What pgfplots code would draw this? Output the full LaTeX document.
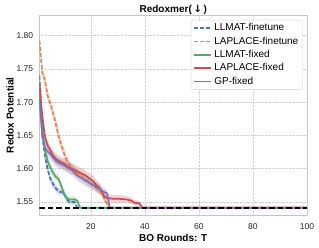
\documentclass[border=0pt]{standalone}
\usepackage{pgfplots}
\pgfplotsset{compat=1.18}
\usepgfplotslibrary{fillbetween}
\usepackage{pgfplotstable}
\usepackage{fontspec}
\setmainfont{Liberation Sans}
\newfontfamily\dejavu{DejaVu Sans}
\definecolor{cblue}{HTML}{4C72B0}
\definecolor{corange}{HTML}{DD8452}
\definecolor{cgreen}{HTML}{55A868}
\definecolor{cred}{HTML}{C44E52}
\definecolor{cpurple}{HTML}{8172B3}

\pgfplotstableread{
x y d
1 1.740 0.006
2 1.650 0.007
3 1.620 0.007
4 1.600 0.007
5 1.585 0.006
6 1.577 0.006
7 1.571 0.005
8 1.566 0.005
9 1.565 0.005
10 1.564 0.005
11 1.555 0.005
12 1.550 0.004
14 1.550 0.004
15 1.5415 0
100 1.5415 0
}\blueT

\pgfplotstableread{
x y d
1 1.792 0.008
2 1.745 0.008
3 1.733 0.008
4 1.710 0.008
5 1.698 0.008
6 1.684 0.008
7 1.668 0.008
8 1.650 0.008
9 1.636 0.008
10 1.624 0.008
11 1.614 0.007
12 1.607 0.007
13 1.601 0.007
14 1.597 0.007
15 1.593 0.007
16 1.590 0.007
17 1.587 0.007
18 1.584 0.007
19 1.581 0.007
20 1.578 0.007
21 1.575 0.007
22 1.572 0.007
23 1.569 0.007
24 1.564 0.006
25 1.555 0.005
26 1.547 0.004
27 1.5415 0.002
29 1.5415 0
100 1.5415 0
}\orangeT

\pgfplotstableread{
x y d
1 1.712 0.006
2 1.660 0.007
3 1.628 0.007
4 1.612 0.007
5 1.602 0.006
6 1.594 0.006
7 1.588 0.006
8 1.585 0.006
9 1.575 0.006
10 1.563 0.005
11 1.556 0.004
12 1.554 0.004
14 1.554 0.004
15 1.552 0.003
16 1.5415 0
100 1.5415 0
}\greenT

\pgfplotstableread{
x y d
1 1.728 0.007
2 1.680 0.008
3 1.648 0.008
4 1.635 0.008
5 1.628 0.008
6 1.620 0.008
7 1.615 0.008
8 1.612 0.008
9 1.610 0.008
10 1.608 0.008
11 1.605 0.008
12 1.602 0.008
13 1.600 0.008
14 1.598 0.008
15 1.596 0.008
16 1.594 0.008
17 1.592 0.008
18 1.590 0.008
19 1.587 0.008
20 1.584 0.008
21 1.581 0.008
22 1.575 0.008
23 1.572 0.008
24 1.566 0.007
25 1.558 0.006
26 1.556 0.006
28 1.555 0.006
30 1.555 0.006
33 1.554 0.005
35 1.552 0.005
36 1.549 0.004
38 1.548 0.004
39 1.5415 0
100 1.5415 0
}\redT

\pgfplotstableread{
x y d
1 1.705 0.007
2 1.650 0.008
3 1.632 0.008
4 1.626 0.008
5 1.622 0.008
6 1.617 0.008
7 1.612 0.008
8 1.609 0.008
9 1.607 0.008
10 1.605 0.008
11 1.603 0.008
12 1.600 0.008
13 1.598 0.008
14 1.594 0.008
15 1.590 0.008
16 1.587 0.008
17 1.585 0.008
18 1.582 0.008
19 1.580 0.008
20 1.577 0.007
21 1.575 0.007
22 1.572 0.007
23 1.570 0.007
24 1.567 0.006
25 1.565 0.006
26 1.563 0.005
27 1.5415 0
100 1.5415 0
}\purpleT

\begin{document}
\begin{tikzpicture}
\begin{axis}[
  width=267.5pt, height=200.6pt, scale only axis,
  xmin=1, xmax=100, ymin=1.5296, ymax=1.831,
  xtick={20,40,60,80,100},
  ytick={1.55,1.60,1.65,1.70,1.75,1.80},
  yticklabel style={/pgf/number format/fixed, /pgf/number format/fixed zerofill, /pgf/number format/precision=2},
  /pgf/number format/assume math mode=true,
  ticklabel style={font=\fontsize{8.5}{10}\selectfont, text=black!85},
  xticklabel style={anchor=center, yshift=-11.1pt},
  yticklabel style={anchor=east, inner sep=0pt, xshift=-6.2pt},
  major tick length=0pt,
  tick style={draw=none},
  grid=major,
  grid style={densely dotted, color=gray!35, line width=0.5pt},
  axis line style={gray!45, line width=0.6pt},
  every axis title shift=0pt,
  title={Redoxmer(\,{\dejavu\bfseries ↓}\,)},
  title style={font=\bfseries\fontsize{10}{12}\selectfont, at={(axis description cs:0.5,1.0249)}, anchor=center},
  xlabel={BO Rounds: T},
  xlabel style={font=\bfseries\fontsize{10}{12}\selectfont, at={(axis description cs:0.5,-0.1117)}, anchor=center},
  ylabel={Redox Potential},
  ylabel style={font=\bfseries\fontsize{10}{12}\selectfont, at={(axis description cs:-0.1103,0.5)}, anchor=center},
  legend style={at={(axis description cs:1,1)}, anchor=north east, xshift=-4pt, yshift=-5pt,
    draw=gray!35, rounded corners=2pt, fill=white,
    font=\fontsize{10}{11.5}\selectfont, row sep=0.6pt, inner xsep=2.5pt, inner ysep=1.5pt},
  legend cell align=left,
]
% bands
\addplot[draw=none, name path=bU, forget plot] table[x=x, y expr=\thisrow{y}+\thisrow{d}] {\blueT};
\addplot[draw=none, name path=bL, forget plot] table[x=x, y expr=\thisrow{y}-\thisrow{d}] {\blueT};
\addplot[cblue, fill opacity=0.25, draw=none, forget plot] fill between[of=bU and bL];
\addplot[draw=none, name path=oU, forget plot] table[x=x, y expr=\thisrow{y}+\thisrow{d}] {\orangeT};
\addplot[draw=none, name path=oL, forget plot] table[x=x, y expr=\thisrow{y}-\thisrow{d}] {\orangeT};
\addplot[corange, fill opacity=0.25, draw=none, forget plot] fill between[of=oU and oL];
\addplot[draw=none, name path=gU, forget plot] table[x=x, y expr=\thisrow{y}+\thisrow{d}] {\greenT};
\addplot[draw=none, name path=gL, forget plot] table[x=x, y expr=\thisrow{y}-\thisrow{d}] {\greenT};
\addplot[cgreen, fill opacity=0.25, draw=none, forget plot] fill between[of=gU and gL];
\addplot[draw=none, name path=rU, forget plot] table[x=x, y expr=\thisrow{y}+\thisrow{d}] {\redT};
\addplot[draw=none, name path=rL, forget plot] table[x=x, y expr=\thisrow{y}-\thisrow{d}] {\redT};
\addplot[cred, fill opacity=0.25, draw=none, forget plot] fill between[of=rU and rL];
\addplot[draw=none, name path=pU, forget plot] table[x=x, y expr=\thisrow{y}+\thisrow{d}] {\purpleT};
\addplot[draw=none, name path=pL, forget plot] table[x=x, y expr=\thisrow{y}-\thisrow{d}] {\purpleT};
\addplot[cpurple, fill opacity=0.25, draw=none, forget plot] fill between[of=pU and pL];
% lines
\addplot[cblue, line width=1.7pt, dash pattern=on 4pt off 2pt, no marks, forget plot] table[x=x,y=y] {\blueT};
\addplot[corange, line width=1.7pt, dash pattern=on 4pt off 2pt, no marks, forget plot] table[x=x,y=y] {\orangeT};
\addplot[cgreen, line width=1.7pt, no marks, forget plot] table[x=x,y=y] {\greenT};
\addplot[cred, line width=1.7pt, no marks, forget plot] table[x=x,y=y] {\redT};
\addplot[cpurple, line width=1.7pt, no marks, forget plot] table[x=x,y=y] {\purpleT};
\addplot[black, line width=1.8pt, dash pattern=on 5.5pt off 3pt, forget plot] coordinates {(1,1.5415) (100,1.5415)};
% legend
\addlegendimage{cblue, line width=1.7pt, dash pattern=on 4pt off 2pt}
\addlegendentry{LLMAT-finetune}
\addlegendimage{corange, line width=1.7pt, dash pattern=on 4pt off 2pt}
\addlegendentry{LAPLACE-finetune}
\addlegendimage{cgreen, line width=1.7pt}
\addlegendentry{LLMAT-fixed}
\addlegendimage{cred, line width=1.7pt}
\addlegendentry{LAPLACE-fixed}
\addlegendimage{cpurple, line width=1.7pt}
\addlegendentry{GP-fixed}
\end{axis}
\pgfresetboundingbox
\useasboundingbox (-39.5pt,-32.4pt) rectangle (279.5pt,215.6pt);
\end{tikzpicture}
\end{document}
